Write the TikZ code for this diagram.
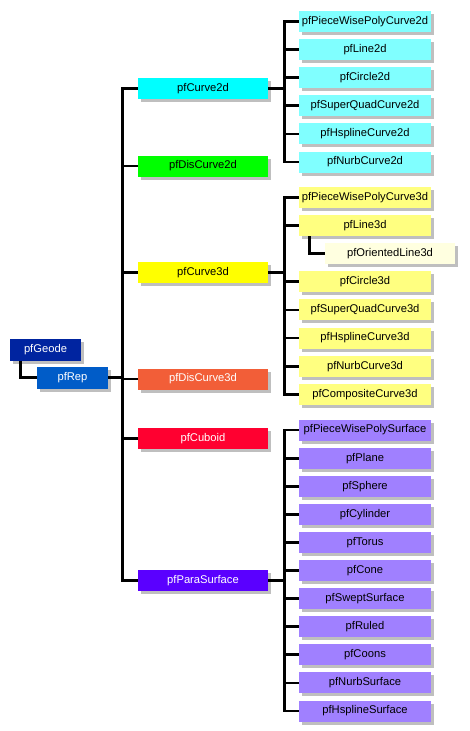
\documentclass[tikz,border=0pt]{standalone}
\usepackage{fontspec}
\setmainfont{Liberation Sans}
\usetikzlibrary{positioning,shadows}

\definecolor{geodeblue}{HTML}{0024A0}
\definecolor{repblue}{HTML}{005CC8}
\definecolor{curvecyan}{HTML}{00FFFF}
\definecolor{discurvegreen}{HTML}{00FF00}
\definecolor{curveyellow}{HTML}{FFFF00}
\definecolor{discurvered}{HTML}{F25E38}
\definecolor{cuboidred}{HTML}{FF0030}
\definecolor{paraviolet}{HTML}{5A00FF}
\definecolor{lightcyan}{HTML}{80FFFF}
\definecolor{lightyellow}{HTML}{FFFF80}
\definecolor{paleyellow}{HTML}{FFFFE0}
\definecolor{lavender}{HTML}{A080FF}

\tikzset{
  cls/.style={minimum width=130pt, minimum height=21pt, inner sep=0pt,
    font=\fontsize{11.2}{13}\selectfont,
    drop shadow={shadow xshift=3pt, shadow yshift=-3pt, fill=black!25, opacity=1}},
  rootbox/.style={cls, minimum width=71pt, minimum height=22pt, text=white},
  leaf/.style={cls, minimum width=132pt},
  link/.style={line width=2.8pt},
}

\begin{document}
\begin{tikzpicture}[x=1pt, y=-1pt, node distance=6.7pt]
\useasboundingbox (0,0) rectangle (470,731);

% root
\node[rootbox, fill=geodeblue] (geode) at (45.5,349.5) {pfGeode};
\node[rootbox, fill=repblue] (rep) at (72.5,377.5) {pfRep};

% second level
\node[cls, fill=curvecyan] (curve2d) at (203,88.5) {pfCurve2d};
\node[cls, fill=discurvegreen] (discurve2d) at (203,166) {pfDisCurve2d};
\node[cls, fill=curveyellow] (curve3d) at (203,272.5) {pfCurve3d};
\node[cls, fill=discurvered, text=white] (discurve3d) at (203,379) {pfDisCurve3d};
\node[cls, fill=cuboidred, text=white] (cuboid) at (203,438.5) {pfCuboid};
\node[cls, fill=paraviolet, text=white] (parasurface) at (203,580.5) {pfParaSurface};

% 2d curves
\node[leaf, fill=lightcyan] (pwpoly2d) at (365,21.5) {pfPieceWisePolyCurve2d};
\node[leaf, fill=lightcyan, below=of pwpoly2d] (line2d) {pfLine2d};
\node[leaf, fill=lightcyan, below=of line2d] (circle2d) {pfCircle2d};
\node[leaf, fill=lightcyan, below=of circle2d] (squad2d) {pfSuperQuadCurve2d};
\node[leaf, fill=lightcyan, below=of squad2d] (hspline2d) {pfHsplineCurve2d};
\node[leaf, fill=lightcyan, below=of hspline2d] (nurb2d) {pfNurbCurve2d};

% 3d curves
\node[leaf, fill=lightyellow] (pwpoly3d) at (365,197.5) {pfPieceWisePolyCurve3d};
\node[leaf, fill=lightyellow, below=of pwpoly3d] (line3d) {pfLine3d};
\node[cls, fill=paleyellow, below=of line3d, xshift=25pt] (oline3d) {pfOrientedLine3d};
\node[leaf, fill=lightyellow, below=of oline3d, xshift=-25pt] (circle3d) {pfCircle3d};
\node[leaf, fill=lightyellow, below=of circle3d] (squad3d) {pfSuperQuadCurve3d};
\node[leaf, fill=lightyellow, below=of squad3d] (hspline3d) {pfHsplineCurve3d};
\node[leaf, fill=lightyellow, below=of hspline3d] (nurb3d) {pfNurbCurve3d};
\node[leaf, fill=lightyellow, below=of nurb3d] (composite3d) {pfCompositeCurve3d};

% surfaces
\node[leaf, fill=lavender] (pwpolysurf) at (365,430) {pfPieceWisePolySurface};
\node[leaf, fill=lavender, below=of pwpolysurf] (plane) {pfPlane};
\node[leaf, fill=lavender, below=of plane] (sphere) {pfSphere};
\node[leaf, fill=lavender, below=of sphere] (cylinder) {pfCylinder};
\node[leaf, fill=lavender, below=of cylinder] (torus) {pfTorus};
\node[leaf, fill=lavender, below=of torus] (cone) {pfCone};
\node[leaf, fill=lavender, below=of cone] (swept) {pfSweptSurface};
\node[leaf, fill=lavender, below=of swept] (ruled) {pfRuled};
\node[leaf, fill=lavender, below=of ruled] (coons) {pfCoons};
\node[leaf, fill=lavender, below=of coons] (nurbsurf) {pfNurbSurface};
\node[leaf, fill=lavender, below=of nurbsurf] (hsplinesurf) {pfHsplineSurface};

% links
\draw[link] ([xshift=11pt]geode.south west) |- (rep.west);
\draw[link] ([xshift=11pt]line3d.south west) |- (oline3d.west);
\foreach \c in {curve2d,discurve2d,curve3d,discurve3d,cuboid,parasurface}
  \draw[link] (rep.east) -- ++(14,0) |- (\c.west);
\foreach \c in {pwpoly2d,line2d,circle2d,squad2d,hspline2d,nurb2d}
  \draw[link] (curve2d.east) -- ++(16,0) |- (\c.west);
\foreach \c in {pwpoly3d,line3d,circle3d,squad3d,hspline3d,nurb3d,composite3d}
  \draw[link] (curve3d.east) -- ++(16,0) |- (\c.west);
\foreach \c in {pwpolysurf,plane,sphere,cylinder,torus,cone,swept,ruled,coons,nurbsurf,hsplinesurf}
  \draw[link] (parasurface.east) -- ++(16,0) |- (\c.west);
\end{tikzpicture}
\end{document}
